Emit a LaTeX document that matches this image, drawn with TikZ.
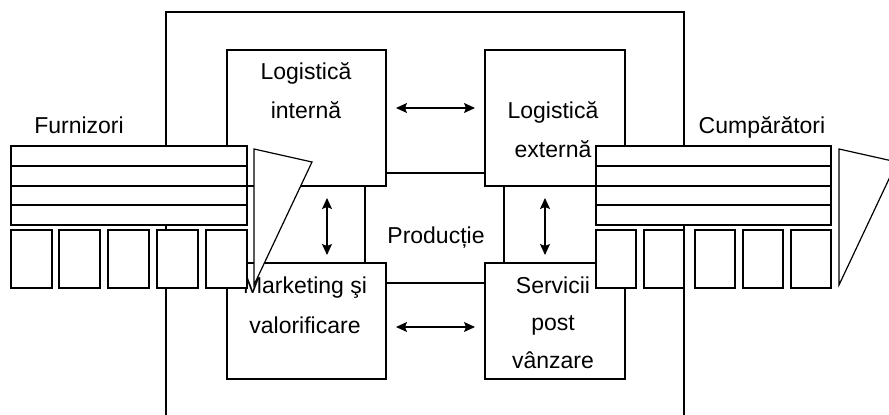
\documentclass[tikz,border=0pt]{standalone}
\usepackage{fontspec}
\setmainfont{Liberation Sans}
\usetikzlibrary{arrows.meta}
\tikzset{
  ln/.style={line width=1.2pt},
  box/.style={draw, fill=white, line width=1.2pt, inner sep=0pt, outer sep=0pt, anchor=north west},
  cell/.style={box, minimum width=41pt, minimum height=58pt},
  biarrow/.style={line width=1.2pt, {Stealth[length=11pt,width=10pt,inset=2pt]}-{Stealth[length=11pt,width=10pt,inset=2pt]}},
  lbl/.style={font=\fontsize{23}{27}\selectfont, anchor=base, inner sep=0pt},
  wedge/.style={draw, fill=white, line width=1.2pt, line join=miter}
}
\begin{document}
\begin{tikzpicture}[x=1pt, y=-1pt]
\useasboundingbox (0,0) rectangle (889,415);
\clip (0,0) rectangle (889,415);

% company frame, open at the bottom
\draw[ln] (166,420) -- (166,12) -- (684,12) -- (684,420);

% production block behind the four activity boxes
\node[box, minimum width=139pt, minimum height=110pt] (prod) at (365,173) {};

% activity boxes
\node[box, minimum width=159pt, minimum height=136pt] (li) at (227,50) {};
\node[box, minimum width=140pt, minimum height=136pt] (le) at (485,50) {};
\node[box, minimum width=159pt, minimum height=116pt] (mk) at (227,263) {};
\node[box, minimum width=140pt, minimum height=116pt] (sv) at (485,263) {};

% labels
\node[lbl] (li1) at (306,79) {Logistică};
\node[lbl] (li2) at (306,118) {internă};
\node[lbl] (le1) at (553,118) {Logistică};
\node[lbl] (le2) at (553,157) {externă};
\node[lbl] (pr)  at (436,243) {Producție};
\node[lbl] (mk1) at (305,293) {Marketing şi};
\node[lbl] (mk2) at (305,333) {valorificare};
\node[lbl] (sv1) at (553,293) {Servicii};
\node[lbl] (sv2) at (553,330) {post};
\node[lbl] (sv3) at (553,368) {vânzare};
\node[lbl] (furn) at (79,133) {Furnizori};
\node[lbl] (cump) at (762,133) {Cumpărători};

% two-way links between the activities
\coordinate (t1) at (396,108); \coordinate (t2) at (475,108);
\coordinate (b1) at (396,327); \coordinate (b2) at (475,327);
\coordinate (l1) at (327,198); \coordinate (l2) at (327,255);
\coordinate (r1) at (545,198); \coordinate (r2) at (545,255);
\draw[biarrow] (t1) -- (t2);
\draw[biarrow] (b1) -- (b2);
\draw[biarrow] (l1) -- (l2);
\draw[biarrow] (r1) -- (r2);

% suppliers: striped stack, row of cells, wedge
\node[box, minimum width=236pt, minimum height=79pt] (fs) at (11,146) {};
\foreach \y in {166,186,205} \draw[ln] (11,\y) -- (247,\y);
\foreach \x/\n in {11/1,59/2,108/3,157/4,206/5}
  \node[cell] (fc\n) at (\x,230) {};
\draw[wedge] (254,149) -- (312,162) -- (254,285) -- cycle;

% buyers: striped stack, row of cells, wedge
\node[box, minimum width=235pt, minimum height=79pt] (cs) at (596,146) {};
\foreach \y in {166,186,205} \draw[ln] (596,\y) -- (831,\y);
\foreach \x/\n in {596/1,644/2,695/3,743/4,791/5}
  \node[cell, minimum width=40pt] (cc\n) at (\x,230) {};
\draw[wedge] (839,149) -- (897,162) -- (839,285) -- cycle;
\end{tikzpicture}
\end{document}
